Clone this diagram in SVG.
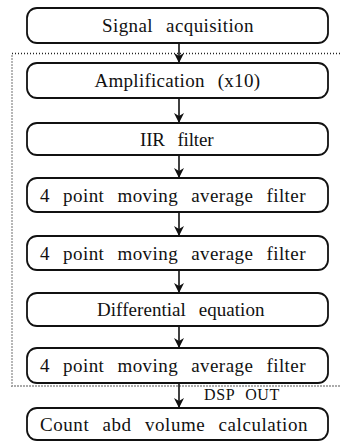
<svg xmlns="http://www.w3.org/2000/svg" width="341" height="442" viewBox="0 0 341 442">
<style>
.box{fill:#fff;stroke:#111;stroke-width:1.8}
text{font-family:"Liberation Serif","DejaVu Serif","Noto Serif",serif;fill:#111}
.lbl{font-size:19px;text-anchor:middle;letter-spacing:0.5px;word-spacing:8px}
.conn{stroke:#111;stroke-width:1.6;fill:none;marker-end:url(#ah)}
.dot{fill:none;stroke:#222;stroke-width:1.3;stroke-dasharray:1 2}
</style>
<defs>
<marker id="ah" markerWidth="12" markerHeight="12" refX="10" refY="5" orient="auto" markerUnits="userSpaceOnUse">
<path d="M0,0 L10,5 L0,10 L3,5 Z" fill="#111"/>
</marker>
</defs>
<rect class="dot" x="12" y="53.5" width="335" height="332.5"/>
<g id="connectors">
<line class="conn" x1="179" y1="43" x2="179" y2="63"/>
<line class="conn" x1="179" y1="98" x2="179" y2="123"/>
<line class="conn" x1="179" y1="155" x2="179" y2="178"/>
<line class="conn" x1="179" y1="212" x2="179" y2="236"/>
<line class="conn" x1="179" y1="270" x2="179" y2="293"/>
<line class="conn" x1="179" y1="326" x2="179" y2="348"/>
<line class="conn" x1="179" y1="383" x2="179" y2="408"/>
<text x="204" y="400" font-size="16" letter-spacing="0.6" word-spacing="6">DSP OUT</text>
</g>
<g id="n1"><rect class="box" x="27" y="8" width="301" height="35" rx="10"/><text class="lbl" x="178" y="32" textLength="152" lengthAdjust="spacing">Signal acquisition</text></g>
<g id="n2"><rect class="box" x="27" y="63" width="301" height="35" rx="10"/><text class="lbl" x="177.5" y="87" textLength="166" lengthAdjust="spacing">Amplification (x10)</text></g>
<g id="n3"><rect class="box" x="27" y="123" width="301" height="32" rx="10"/><text class="lbl" x="177" y="145.5" textLength="74" lengthAdjust="spacing">IIR filter</text></g>
<g id="n4"><rect class="box" x="27" y="178" width="301" height="34" rx="10"/><text class="lbl" x="173" y="201.5" textLength="266" lengthAdjust="spacing">4 point moving average filter</text></g>
<g id="n5"><rect class="box" x="27" y="236" width="301" height="34" rx="10"/><text class="lbl" x="173" y="259.5" textLength="266" lengthAdjust="spacing">4 point moving average filter</text></g>
<g id="n6"><rect class="box" x="27" y="293" width="301" height="33" rx="10"/><text class="lbl" x="181" y="316" textLength="168" lengthAdjust="spacing">Differential equation</text></g>
<g id="n7"><rect class="box" x="27" y="348" width="301" height="35" rx="10"/><text class="lbl" x="173" y="372" textLength="266" lengthAdjust="spacing">4 point moving average filter</text></g>
<g id="n8"><rect class="box" x="27" y="408" width="301" height="32" rx="10"/><text class="lbl" x="174" y="430.5" textLength="268" lengthAdjust="spacing">Count abd volume calculation</text></g>
</svg>
